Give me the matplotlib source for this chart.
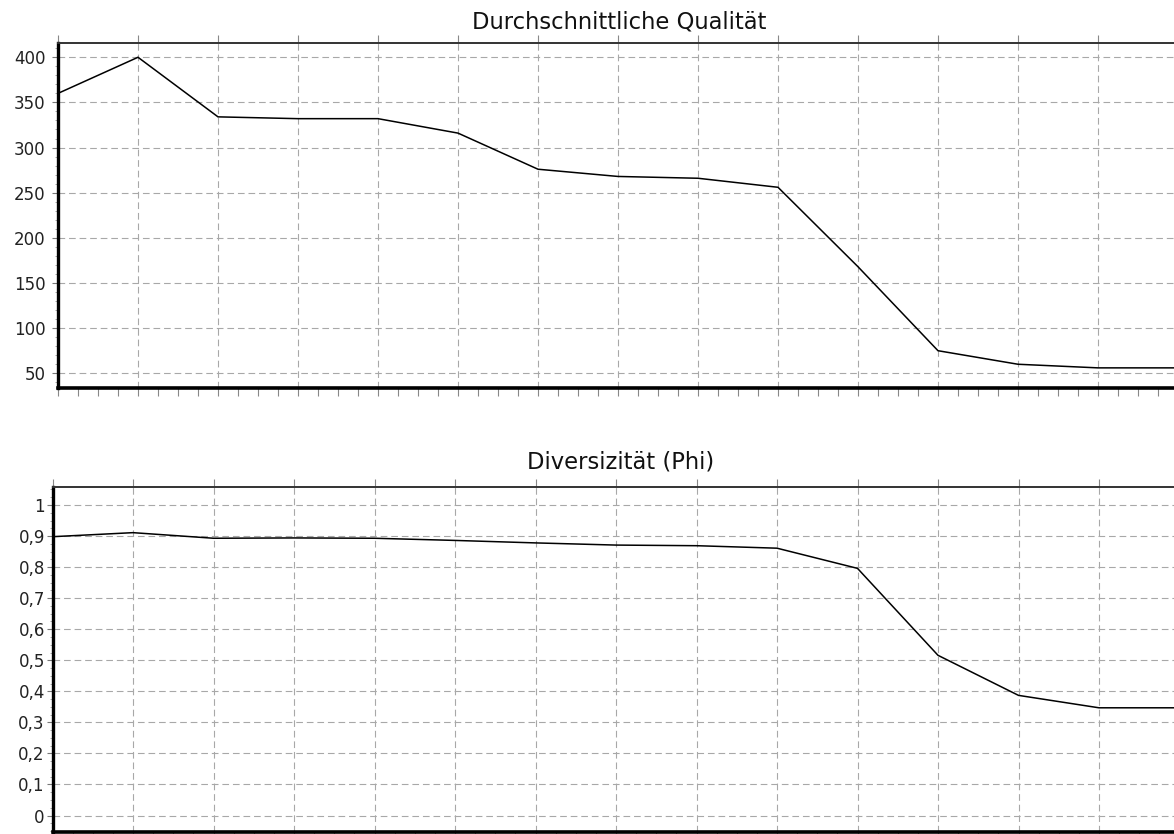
import matplotlib
matplotlib.use("Agg")
import matplotlib.pyplot as plt
from matplotlib.ticker import MultipleLocator, FixedLocator, FixedFormatter

# ---- data ----
generation = list(range(15))
quality = [360, 400, 334, 332, 332, 316, 276, 268, 266, 256, 168, 75, 60, 56, 56]
diversity = [0.898, 0.911, 0.893, 0.894, 0.893, 0.886, 0.878, 0.871, 0.869, 0.861,
             0.796, 0.516, 0.387, 0.347, 0.347]

title_top = "Durchschnittliche Qualität"
title_bottom = "Diversizität (Phi)"
yticks_top = [50, 100, 150, 200, 250, 300, 350, 400]
yticklabels_top = ["50", "100", "150", "200", "250", "300", "350", "400"]
yticks_bottom = [0, 0.1, 0.2, 0.3, 0.4, 0.5, 0.6, 0.7, 0.8, 0.9, 1.0]
yticklabels_bottom = ["0", "0,1", "0,2", "0,3", "0,4", "0,5", "0,6", "0,7", "0,8", "0,9", "1"]

plt.rcParams['font.family'] = ['DejaVu Sans']

W, H = 1174, 834
fig = plt.figure(figsize=(W / 100, H / 100), dpi=100)
fig.patch.set_facecolor("white")

grid_kw = dict(color="#a8a8a8", linestyle=(0, (6, 3.5)), linewidth=0.8)


def style_axes(ax, yticks, ylabels, ypad, minor_y):
    for s in ["right"]:
        ax.spines[s].set_visible(False)
    ax.spines["left"].set_linewidth(2.4)
    ax.spines["left"].set_color("black")
    ax.spines["bottom"].set_linewidth(2.6)
    ax.spines["bottom"].set_color("black")
    ax.spines["top"].set_linewidth(1.4)
    ax.spines["top"].set_color("#333333")
    ax.xaxis.set_major_locator(MultipleLocator(1))
    ax.xaxis.set_minor_locator(MultipleLocator(0.25))
    ax.set_xticklabels([])
    ax.tick_params(axis="x", which="both", bottom=True, top=True, direction="out",
                   length=5.5, width=0.8, color="#888888", labelbottom=False)
    ax.tick_params(axis="x", which="minor", top=False)
    ax.yaxis.set_major_locator(FixedLocator(yticks))
    ax.yaxis.set_major_formatter(FixedFormatter(ylabels))
    ax.yaxis.set_minor_locator(MultipleLocator(minor_y))
    ax.tick_params(axis="y", which="major", length=4, width=0.8, color="#777777",
                   labelsize=12, labelcolor="#222222", pad=ypad)
    ax.tick_params(axis="y", which="minor", length=2, width=0.6, color="#999999")
    ax.grid(True, which="major", **grid_kw)
    ax.set_axisbelow(True)


# top axes
ax1 = fig.add_axes([58 / W, 1 - 388 / H, (W - 58) / W, 345 / H])
ax1.plot(generation, quality, color="black", linewidth=1.1, solid_joinstyle="miter")
ax1.set_xlim(0, (W - 58) / 80)
ax1.set_ylim(33.7, 415.8)
style_axes(ax1, yticks_top, yticklabels_top, 5, 10)

# bottom axes
ax2 = fig.add_axes([52.5 / W, 1 - 831.7 / H, (W - 52.5) / W, 345 / H])
ax2.plot(generation, diversity, color="black", linewidth=1.1)
ax2.set_xlim(0, (W - 52.5) / 80.5)
ax2.set_ylim(-0.052, 1.059)
style_axes(ax2, yticks_bottom, yticklabels_bottom, 1.5, 0.025)

fig.text(619.5 / W, 1 - 28.3 / H, title_top, ha="center", va="baseline",
         fontsize=16.3, color="#111111")
fig.text(620.8 / W, 1 - 468.3 / H, title_bottom, ha="center", va="baseline",
         fontsize=16.3, color="#111111")

fig.savefig("out.png", dpi=100, facecolor="white")
